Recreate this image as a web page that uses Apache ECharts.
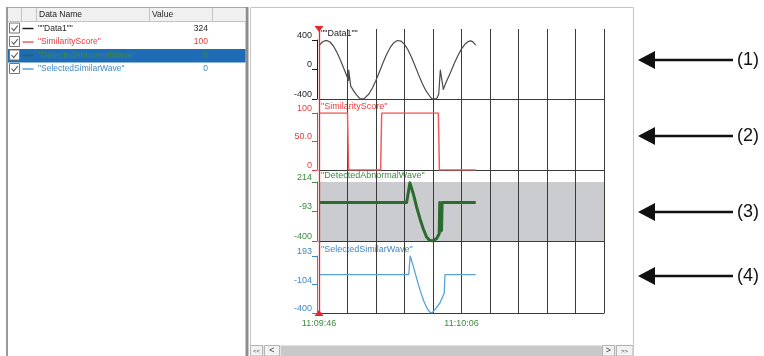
<!DOCTYPE html>
<html>
<head>
<meta charset="utf-8">
<script src="https://cdn.jsdelivr.net/npm/echarts@6/dist/echarts.min.js"></script>
<style>
  html, body { margin: 0; padding: 0; background: #fff; }
  #chart { width: 764px; height: 356px; }
</style>
</head>
<body>
<div id="chart"></div>
<script>
// Time axis: seconds after 11:09:46, one grid column every 4 s
const timeSpan = [0, 40];
const timeTicks = [0, 20];
const timeLabels = ['11:09:46', '11:10:06'];

const seriesNames = ['""Data1""', '"SimilarityScore"', '"DetectedAbnormalWave"', '"SelectedSimilarWave"'];

// [seconds, value]
const data1 = [
  [0, 324], [0.5, 376], [1, 395], [1.5, 376], [2, 322], [2.5, 236], [3, 129], [3.5, 9],
  [4, -112], [4.15, -150], [4.18, -8], [4.35, -8], [4.45, -225], [4.6, -245], [5, -311],
  [5.5, -370], [5.8, -398], [6.3, -398], [6.5, -381], [7, -332], [7.5, -251], [8, -146],
  [8.5, -28], [9, 94], [9.5, 206], [10, 299], [10.5, 364], [11, 393], [11.5, 386], [12, 341],
  [12.5, 265], [13, 163], [13.5, 45], [14, -76], [14.5, -191], [15, -287], [15.5, -356],
  [15.8, -396], [16.5, -398], [16.8, -335], [17.0, -320], [17.03, -8], [17.3, -8],
  [17.45, -270], [17.7, -205], [18, -140], [18.5, -30], [19, 85], [19.5, 190], [20, 280],
  [20.5, 345], [21, 382], [21.3, 388], [21.6, 375], [22, 330]
];
const similarityScore = [
  [0, 100], [4.0, 100], [4.15, 0], [8.65, 0], [8.8, 100], [16.75, 100], [16.9, 0], [22, 0]
];
const detectedAbnormalWave = [
  [0, 0], [12.3, 0], [12.76, 205], [13.23, 92], [13.7, -46], [14.17, -168], [14.63, -272],
  [15.1, -358], [15.5, -393], [15.9, -400], [16.1, -400], [16.5, -376], [16.87, -324],
  [16.95, 0], [17.03, -300], [17.1, -5], [17.2, -290], [17.28, 0], [17.6, 0], [22, 0]
];
const selectedSimilarWave = [
  [0, 0], [12.6, 0], [12.8, 193], [13.2, 95], [13.7, -40], [14.2, -165], [14.7, -275],
  [15.2, -355], [15.55, -392], [15.85, -400], [16.27, -365], [16.97, -296], [17.58, -192],
  [17.68, 0], [22, 0]
];

// Per-panel y ticks: min, middle, max
const data1Ticks = [-400, 0, 400];
const data1TickLabels = ['-400', '0', '400'];
const scoreTicks = [0, 50, 100];
const scoreTickLabels = ['0', '50.0', '100'];
const abnormalTicks = [-400, -93, 214];
const abnormalTickLabels = ['-400', '-93', '214'];
const similarTicks = [-400, -104, 193];
const similarTickLabels = ['-400', '-104', '193'];

const FONT = '"Liberation Sans", Arial, sans-serif';
const PLOT_LEFT = 319;
const PLOT_RIGHT = 160;

const panels = [
  { name: seriesNames[0], data: data1, ticks: data1Ticks, labels: data1TickLabels,
    line: '#4a4a4a', text: '#1e1e1e', width: 1.2, top: 40, height: 59 },
  { name: seriesNames[1], data: similarityScore, ticks: scoreTicks, labels: scoreTickLabels,
    line: '#f25a5a', text: '#e83a3c', width: 1.5, top: 113, height: 57 },
  { name: seriesNames[2], data: detectedAbnormalWave, ticks: abnormalTicks, labels: abnormalTickLabels,
    line: '#2d6a30', text: '#3d8a41', width: 3, top: 182, height: 59, bg: '#cbcccf' },
  { name: seriesNames[3], data: selectedSimilarWave, ticks: similarTicks, labels: similarTickLabels,
    line: '#5aa3d6', text: '#3e88c6', width: 1.3, top: 256, height: 57 }
];

const grids = [{ left: PLOT_LEFT, right: PLOT_RIGHT, top: 29, height: 284, show: false }];
const xAxes = [{
  gridIndex: 0, type: 'value', min: timeSpan[0], max: timeSpan[1], interval: 4, z: 3,
  axisLine: { show: false }, axisTick: { show: false }, axisLabel: { show: false },
  splitLine: { show: true, lineStyle: { color: '#3a3a3a', width: 1 } }
}];
const yAxes = [{ gridIndex: 0, type: 'value', min: 0, max: 1, show: false }];
const series = [];

panels.forEach((p, i) => {
  const gi = i + 1;
  const last = i === panels.length - 1;
  grids.push({
    left: PLOT_LEFT, right: PLOT_RIGHT, top: p.top, height: p.height,
    show: !!p.bg, backgroundColor: p.bg || 'transparent', borderWidth: 0, z: -1
  });
  xAxes.push({
    gridIndex: gi, type: 'value', min: timeSpan[0], max: timeSpan[1], interval: 4,
    axisLine: { show: true, onZero: false, lineStyle: { color: '#3a3a3a', width: 1 } },
    axisTick: { show: false },
    splitLine: { show: !!p.bg, lineStyle: { color: '#3a3a3a', width: 1 } },
    axisLabel: {
      show: last, customValues: timeTicks, margin: 6,
      formatter: v => timeLabels[timeTicks.indexOf(v)],
      color: '#3d8a41', fontSize: 9, fontFamily: FONT
    }
  });
  yAxes.push({
    gridIndex: gi, type: 'value', min: p.ticks[0], max: p.ticks[2], offset: 2,
    name: p.name, nameLocation: 'end', nameGap: 6,
    nameTextStyle: {
      color: p.text, fontSize: 9, fontFamily: FONT, align: 'left',
      verticalAlign: 'middle', padding: [0, 0, 0, 4]
    },
    axisLine: { show: true, onZero: false, lineStyle: { color: p.text, width: 1 } },
    axisTick: { show: true, length: 5, customValues: p.ticks, lineStyle: { color: p.text } },
    axisLabel: {
      customValues: p.ticks, margin: 5, verticalAlign: 'bottom',
      formatter: v => p.labels[p.ticks.indexOf(v)],
      color: p.text, fontSize: 9, fontFamily: FONT
    },
    splitLine: { show: false }
  });
  series.push({
    name: p.name, type: 'line', xAxisIndex: gi, yAxisIndex: gi, data: p.data,
    showSymbol: false, animation: false, silent: true,
    lineStyle: { color: p.line, width: p.width, join: 'round' }
  });
});

// Cursor at the start of the time span
series.push({
  type: 'line', xAxisIndex: 0, yAxisIndex: 0, data: [], silent: true, animation: false,
  markLine: {
    silent: true, animation: false,
    symbol: ['triangle', 'triangle'], symbolSize: [9, 6], symbolRotate: [0, 180],
    label: { show: false },
    lineStyle: { color: '#e8262a', width: 1.3, type: 'solid' },
    data: [{ xAxis: timeSpan[0] }]
  }
});

// ---- list panel, frames, scroll bar and callouts ----
const g = [];
const txt = (text, x, y, fill, size, align) => ({
  type: 'text', silent: true, z: 5,
  style: { text, x, y, fill, font: size + 'px ' + FONT, textAlign: align || 'left', textVerticalAlign: 'middle' }
});
const rect = (x, y, w, h, fill, stroke, z) => ({
  type: 'rect', silent: true, z: z == null ? 1 : z,
  shape: { x, y, width: w, height: h },
  style: { fill: fill || 'none', stroke: stroke || null, lineWidth: 1 }
});
const line = (x1, y1, x2, y2, stroke, w, z) => ({
  type: 'line', silent: true, z: z == null ? 2 : z,
  shape: { x1, y1, x2, y2 }, style: { stroke, lineWidth: w || 1 }
});

// list panel
g.push(rect(7.5, 7.5, 239, 349, '#fff', '#a8a8a8', -20));
g.push(rect(6, 7, 2, 349, '#9a9a9a', null, 1));
g.push(rect(245.5, 7, 3, 349, '#8c8c8c', null, 1));
g.push(rect(8, 8, 237.5, 13, '#f0f0f0', null, 1));
g.push(line(8, 21.5, 245.5, 21.5, '#c4c4c4'));
[21.5, 36.5, 149.5, 212.5].forEach(x => g.push(line(x, 8, x, 21, '#c4c4c4')));
g.push(txt('Data Name', 39, 14.5, '#222', 8.5));
g.push(txt('Value', 152, 14.5, '#222', 8.5));

const rowY = [28.5, 42, 55.5, 69];
const rowColors = ['#1e1e1e', '#e83a3c', '#3d8a41', '#3e88c6'];
const sampleColors = ['#1e1e1e', '#f25a5a', '#2d6a30', '#5aa3d6'];
const selectedRow = 2;
g.push(rect(8, rowY[selectedRow] - 6.5, 237.5, 13.5, '#1f6cb6', null, 1));
panels.forEach((p, i) => {
  const c = rowY[i];
  g.push(rect(9.5, c - 5.5, 10, 10, '#fff', '#767676', 3));
  g.push({
    type: 'polyline', silent: true, z: 4,
    shape: { points: [[11.5, c - 0.5], [13.8, c + 2.2], [17.8, c - 3]] },
    style: { stroke: '#555', lineWidth: 1.1, fill: null }
  });
  g.push(line(22.5, c, 33.5, c, sampleColors[i], 1.5, 3));
  g.push(txt(p.name, 38, c, rowColors[i], 8.5));
  // value under the cursor (first sample)
  g.push(txt(String(p.data[0][1]), 208, c, rowColors[i], 8.5, 'right'));
});

// chart frame
g.push(rect(250.5, 7.5, 383, 349, '#fff', '#c4c4c4', -20));

// horizontal scroll bar
g.push(rect(250, 345, 384, 11, '#e4e4e4', null, 1));
g.push(rect(281, 346, 321, 10, '#c9c9c9', null, 2));
[[250.5, 12], [264.5, 15], [602.5, 12], [616.5, 16.5]].forEach(([x, w]) =>
  g.push(rect(x, 345.5, w, 10.5, '#f2f2f2', '#b4b4b4', 2)));
g.push(txt('<<', 256.5, 351, '#444', 6, 'center'));
g.push(txt('<', 272, 351, '#444', 9, 'center'));
g.push(txt('>', 608.5, 351, '#444', 9, 'center'));
g.push(txt('>>', 624.5, 351, '#444', 6, 'center'));

// callouts
[60, 136, 212, 276].forEach((y, i) => {
  g.push(line(652, y, 733, y, '#111', 2.5, 3));
  g.push({
    type: 'polygon', silent: true, z: 3,
    shape: { points: [[638, y], [655, y - 9], [655, y + 9]] }, style: { fill: '#111' }
  });
  g.push(txt('(' + (i + 1) + ')', 737, y + 0.5, '#111', 18));
});

const chart = echarts.init(document.getElementById('chart'), null, { renderer: 'canvas' });
chart.setOption({
  animation: false,
  backgroundColor: '#fff',
  grid: grids,
  xAxis: xAxes,
  yAxis: yAxes,
  series: series,
  graphic: { elements: g }
});
</script>
</body>
</html>
